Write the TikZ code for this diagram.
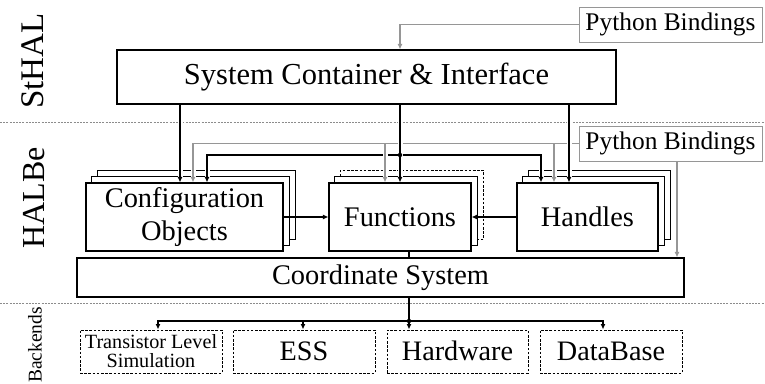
\documentclass[tikz,border=0pt]{standalone}
\usepackage{fontspec}
\setmainfont{Liberation Serif}
\usetikzlibrary{arrows.meta,backgrounds}

\definecolor{pbgray}{RGB}{150,150,150}
\definecolor{sepgray}{RGB}{140,140,140}

\tikzset{
  box/.style={draw, line width=1.1pt, fill=white, inner sep=0pt,
    align=center, font=\fontsize{28.4}{33}\selectfont},
  stk/.style={draw, line width=1.1pt, fill=white},
  pbbox/.style={draw=pbgray, line width=1pt, fill=white, inner sep=0pt,
    font=\fontsize{25.4}{30}\selectfont},
  backend/.style={draw, line width=1pt, dash pattern=on 2.6pt off 1.6pt,
    inner sep=0pt, align=center, font=\fontsize{28.2}{33}\selectfont},
  oneline/.style={text height=18.7pt, text depth=0pt},
  layerlabel/.style={rotate=90, inner sep=0pt},
  sep/.style={draw=sepgray, line width=0.7pt, dash pattern=on 2pt off 1.2pt},
  tip/.style={-{Latex[length=5.5pt,width=5pt]}},
  blk/.style={draw=black, line width=1.1pt},
  gry/.style={draw=pbgray, line width=1.1pt},
  halo/.style={preaction={draw=white, line width=5pt, -, shorten <=3pt, shorten >=4pt}},
  jdot/.style={circle, fill=black, inner sep=0pt, minimum size=4.5pt}
}

\begin{document}
\begin{tikzpicture}[x=1pt, y=-1pt]
\useasboundingbox (0,0) rectangle (765,383);

% layer separators
\draw[sep] (0,122) -- (765,122);
\draw[sep] (0,303) -- (765,303);

% layer names
\node[layerlabel, font=\fontsize{33}{33}\selectfont] (lsthal) at (33,61) {StHAL};
\node[layerlabel, font=\fontsize{32}{32}\selectfont] (lhalbe) at (34,198) {HALBe};
\node[layerlabel, font=\fontsize{19.5}{20}\selectfont] (lback) at (35,345) {Backends};

% StHAL
\node[box, minimum width=499pt, minimum height=54pt,
      font=\fontsize{30.5}{33}\selectfont] (sc) at (366.5,77) {System Container \& Interface};
\node[pbbox, minimum width=183pt, minimum height=35pt] (pb1) at (670.5,24.5) {Python Bindings};
\node[pbbox, minimum width=183pt, minimum height=35pt] (pb2) at (670.5,143.5) {Python Bindings};

% HALBe front boxes
\node[box, minimum width=197pt, minimum height=68pt] (cfg) at (184.5,217) {Configuration\\Objects};
\node[box, minimum width=142pt, minimum height=68pt] (fun) at (400,217) {Functions};
\node[box, minimum width=141pt, minimum height=68pt] (han) at (587.5,217) {Handles};
\node[box, minimum width=607pt, minimum height=39pt] (coord) at (380.5,277.5) {Coordinate System};

% stacked copies behind the HALBe boxes
\begin{scope}[on background layer]
  \draw[stk] ([shift={(12,-12)}]cfg.south west) rectangle ([shift={(12,-12)}]cfg.north east);
  \draw[stk] ([shift={(6,-6)}]cfg.south west) rectangle ([shift={(6,-6)}]cfg.north east);
  \draw[stk, line width=1pt, dash pattern=on 2.6pt off 1.6pt]
    ([shift={(12,-12)}]fun.south west) rectangle ([shift={(12,-12)}]fun.north east);
  \draw[stk] ([shift={(6,-6)}]fun.south west) rectangle ([shift={(6,-6)}]fun.north east);
  \draw[stk] ([shift={(12,-12)}]han.south west) rectangle ([shift={(12,-12)}]han.north east);
  \draw[stk] ([shift={(6,-6)}]han.south west) rectangle ([shift={(6,-6)}]han.north east);
\end{scope}

% backends
\node[backend, minimum width=142pt, minimum height=43pt,
      font=\fontsize{20.2}{19}\selectfont] (tls) at (151,351.5) {Transistor Level\\Simulation};
\node[backend, oneline, minimum width=142pt, minimum height=43pt] (ess) at (304,351.5) {ESS};
\node[backend, oneline, minimum width=141pt, minimum height=43pt] (hw) at (457.5,351.5) {Hardware};
\node[backend, oneline, minimum width=142pt, minimum height=43pt] (db) at (611,351.5) {DataBase};

% wiring columns and junctions
\coordinate (xa) at (180,0);
\coordinate (xb) at (193,0);
\coordinate (xc) at (207,0);
\coordinate (xf) at (385,0);
\coordinate (xd) at (541,0);
\coordinate (xg) at (554,0);
\coordinate (xe) at (569,0);
\coordinate (xp) at (677,0);
\coordinate (xh) at (409,0);
\coordinate (xt) at (158,0);
\coordinate (xs) at (303,0);
\coordinate (xdb) at (603,0);
\coordinate (j1) at (400,155);
\coordinate (j2) at (409,321);

% Python bindings to the system container
\draw[gry, tip] (pb1.west) -| (sc.north -| fun.north);

% branches of the shared interface line
\draw[blk, tip, halo] (j1) -| (cfg.north -| xc);
\draw[blk, tip, halo] (j1) -| (han.north -| xd);

% Python bindings into HALBe
\draw[gry, tip, halo] (pb2.west) -| (cfg.north -| xb);
\draw[gry, tip, halo] (pb2.west -| xf) -- (fun.north -| xf);
\draw[gry, tip, halo] (pb2.west -| xg) -- (han.north -| xg);
\draw[gry, tip] (pb2.south -| xp) -- (coord.north -| xp);

% system container into HALBe
\draw[blk, tip, halo] (sc.south -| xa) -- (cfg.north -| xa);
\draw[blk, tip, halo] (sc.south -| fun.north) -- (fun.north);
\draw[blk, tip, halo] (sc.south -| xe) -- (han.north -| xe);
\node[jdot] (d1) at (j1) {};

% inside HALBe
\draw[blk, tip] (cfg.east) -- (fun.west);
\draw[blk, tip] (han.west) -- (fun.east);
\draw[blk] (fun.south -| xh) -- (coord.north -| xh);

% coordinate system to the backends
\draw[blk, tip] (coord.south -| xh) -- (hw.north -| xh);
\draw[blk, tip] (j2) -| (tls.north -| xt);
\draw[blk, tip] (j2) -| (db.north -| xdb);
\draw[blk, tip] (j2 -| xs) -- (ess.north -| xs);
\node[jdot] (d2) at (j2) {};
\end{tikzpicture}
\end{document}
